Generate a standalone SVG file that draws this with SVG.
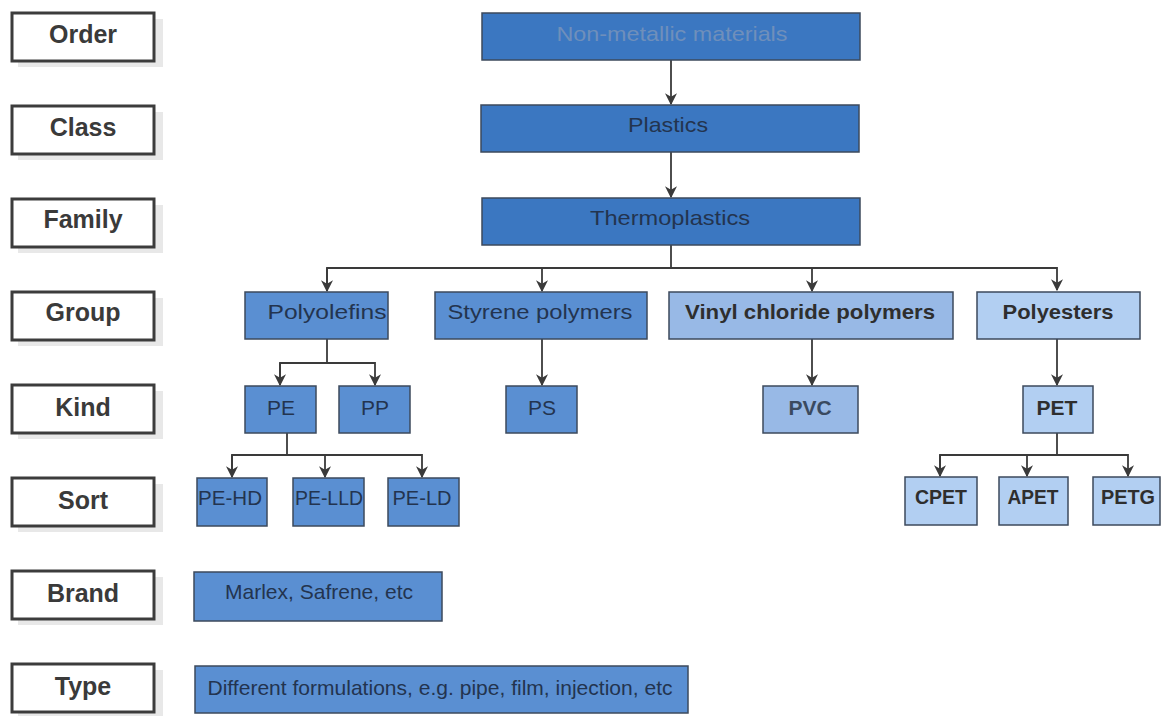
<svg xmlns="http://www.w3.org/2000/svg" width="1162" height="717" viewBox="0 0 1162 717">
<defs>
<marker id="ah" viewBox="0 0 10 10" refX="9" refY="5" markerWidth="12" markerHeight="12" markerUnits="userSpaceOnUse" orient="auto">
<path d="M0,0 L10,5 L0,10 L3,5 Z" fill="#3a3a3a"/>
</marker>
</defs>
<style>
.lab rect.b{fill:#fff;stroke:#3c3c3c;stroke-width:3}
.lab rect.s{fill:#d8d8d8;opacity:0.6}
.lab text{font-family:"Liberation Sans",Arial,sans-serif;font-weight:bold;font-size:25px;fill:#3a3a3a;text-anchor:middle}
.n rect{stroke:#3d4a5c;stroke-width:1.5}
.n text{font-family:"Liberation Sans",Arial,sans-serif;font-size:21px;fill:#23344f;text-anchor:middle}
.n text.b{font-weight:bold;fill:#2e2e2e}
.d1 rect{fill:#3b77c1}
.d2 rect{fill:#5a8fd2}
.d3 rect{fill:#98b9e6}
.d4 rect{fill:#b2cff2}
.conn path{fill:none;stroke:#3a3a3a;stroke-width:1.8}
</style>

<g id="labels">
<g id="lab-order" class="lab"><rect class="s" x="18" y="19" width="145" height="48"/><rect class="b" x="12" y="13" width="142" height="48"/><text x="83" y="43">Order</text></g>
<g id="lab-class" class="lab"><rect class="s" x="18" y="112" width="145" height="48"/><rect class="b" x="12" y="106" width="142" height="48"/><text x="83" y="136">Class</text></g>
<g id="lab-family" class="lab"><rect class="s" x="18" y="205" width="145" height="48"/><rect class="b" x="12" y="199" width="142" height="48"/><text x="83" y="228">Family</text></g>
<g id="lab-group" class="lab"><rect class="s" x="18" y="298" width="145" height="48"/><rect class="b" x="12" y="292" width="142" height="48"/><text x="83" y="321">Group</text></g>
<g id="lab-kind" class="lab"><rect class="s" x="18" y="391" width="145" height="48"/><rect class="b" x="12" y="385" width="142" height="48"/><text x="83" y="416">Kind</text></g>
<g id="lab-sort" class="lab"><rect class="s" x="18" y="484" width="145" height="48"/><rect class="b" x="12" y="478" width="142" height="48"/><text x="83" y="509">Sort</text></g>
<g id="lab-brand" class="lab"><rect class="s" x="18" y="577" width="145" height="48"/><rect class="b" x="12" y="571" width="142" height="48"/><text x="83" y="602">Brand</text></g>
<g id="lab-type" class="lab"><rect class="s" x="18" y="670" width="145" height="46"/><rect class="b" x="12" y="664" width="142" height="48"/><text x="83" y="695">Type</text></g>
</g>

<g id="connectors" class="conn">
<path d="M671,60 V104" marker-end="url(#ah)"/>
<path d="M671,152 V197" marker-end="url(#ah)"/>
<path d="M671,245 V268"/>
<path d="M327,290 V268 H1057 V290" marker-end="url(#ah)"/>
<path d="M327,268 V291" marker-end="url(#ah)"/>
<path d="M542,268 V291" marker-end="url(#ah)"/>
<path d="M812,268 V291" marker-end="url(#ah)"/>
<path d="M327,339 V363"/>
<path d="M280,385 V363 H375 V385" marker-end="url(#ah)"/>
<path d="M280,363 V385" marker-end="url(#ah)"/>
<path d="M542,339 V385" marker-end="url(#ah)"/>
<path d="M812,339 V385" marker-end="url(#ah)"/>
<path d="M1057,339 V385" marker-end="url(#ah)"/>
<path d="M287,433 V455"/>
<path d="M232,477 V455 H422 V477" marker-end="url(#ah)"/>
<path d="M232,455 V477" marker-end="url(#ah)"/>
<path d="M325,455 V477" marker-end="url(#ah)"/>
<path d="M1057,433 V455"/>
<path d="M940,476 V455 H1128 V476" marker-end="url(#ah)"/>
<path d="M940,455 V476" marker-end="url(#ah)"/>
<path d="M1027,455 V476" marker-end="url(#ah)"/>
</g>

<g id="n-nonmetallic" class="n d1"><rect x="482" y="13" width="378" height="47"/><text x="672" y="41" textLength="231" lengthAdjust="spacingAndGlyphs" style="fill:#6f8fbb">Non-metallic materials</text></g>
<g id="n-plastics" class="n d1"><rect x="481" y="105" width="378" height="47"/><text x="668" y="132" textLength="80" lengthAdjust="spacingAndGlyphs">Plastics</text></g>
<g id="n-thermoplastics" class="n d1"><rect x="482" y="198" width="378" height="47"/><text x="670" y="225" textLength="160" lengthAdjust="spacingAndGlyphs">Thermoplastics</text></g>

<g id="n-polyolefins" class="n d2"><rect x="245" y="292" width="143" height="47"/><text x="327" y="319" textLength="119" lengthAdjust="spacingAndGlyphs">Polyolefins</text></g>
<g id="n-styrene" class="n d2"><rect x="435" y="292" width="212" height="47"/><text x="540" y="319" textLength="185" lengthAdjust="spacingAndGlyphs">Styrene polymers</text></g>
<g id="n-vinyl" class="n d3"><rect x="669" y="292" width="284" height="47"/><text class="b" x="810" y="319" textLength="250" lengthAdjust="spacingAndGlyphs">Vinyl chloride polymers</text></g>
<g id="n-polyesters" class="n d4"><rect x="977" y="292" width="163" height="47"/><text class="b" x="1058" y="319" textLength="111" lengthAdjust="spacingAndGlyphs">Polyesters</text></g>

<g id="n-pe" class="n d2"><rect x="245" y="386" width="71" height="47"/><text x="281" y="415">PE</text></g>
<g id="n-pp" class="n d2"><rect x="339" y="386" width="71" height="47"/><text x="375" y="415">PP</text></g>
<g id="n-ps" class="n d2"><rect x="506" y="386" width="71" height="47"/><text x="542" y="415">PS</text></g>
<g id="n-pvc" class="n d3"><rect x="763" y="386" width="95" height="47"/><text class="b" x="810" y="415" style="fill:#3a4a60">PVC</text></g>
<g id="n-pet" class="n d4"><rect x="1023" y="386" width="70" height="47"/><text class="b" x="1057" y="415">PET</text></g>

<g id="n-pehd" class="n d2"><rect x="197" y="478" width="70" height="48"/><text x="230" y="505" textLength="64" lengthAdjust="spacingAndGlyphs">PE-HD</text></g>
<g id="n-pelld" class="n d2"><rect x="293" y="478" width="71" height="48"/><text x="329" y="505" textLength="68" lengthAdjust="spacingAndGlyphs">PE-LLD</text></g>
<g id="n-peld" class="n d2"><rect x="388" y="478" width="71" height="48"/><text x="422" y="505" textLength="59" lengthAdjust="spacingAndGlyphs">PE-LD</text></g>
<g id="n-cpet" class="n d4"><rect x="905" y="477" width="72" height="48"/><text class="b" x="941" y="504" textLength="52" lengthAdjust="spacingAndGlyphs">CPET</text></g>
<g id="n-apet" class="n d4"><rect x="999" y="477" width="69" height="48"/><text class="b" x="1033" y="504" textLength="51" lengthAdjust="spacingAndGlyphs">APET</text></g>
<g id="n-petg" class="n d4"><rect x="1093" y="477" width="67" height="48"/><text class="b" x="1128" y="504" textLength="54" lengthAdjust="spacingAndGlyphs">PETG</text></g>

<g id="n-brand" class="n d2"><rect x="194" y="572" width="248" height="49"/><text x="319" y="599" textLength="188" lengthAdjust="spacingAndGlyphs">Marlex, Safrene, etc</text></g>
<g id="n-type" class="n d2"><rect x="195" y="666" width="493" height="47"/><text x="440" y="695" textLength="465" lengthAdjust="spacingAndGlyphs">Different formulations, e.g. pipe, film, injection, etc</text></g>
</svg>
